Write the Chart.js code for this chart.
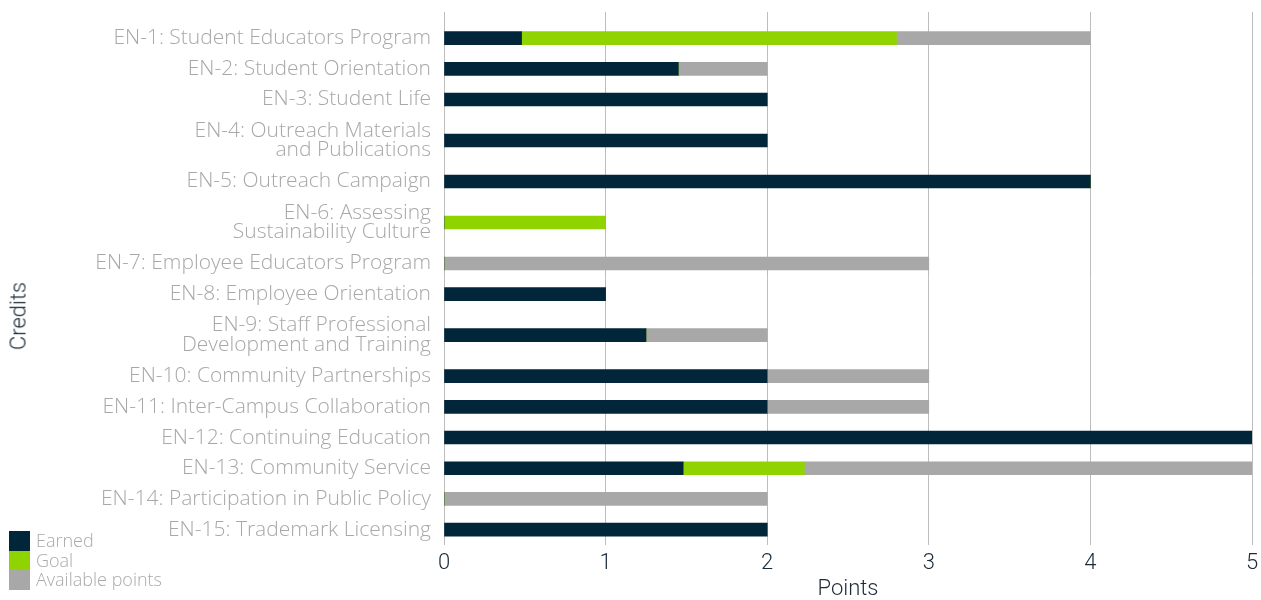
<!DOCTYPE html>
<html>
<head>
<meta charset="utf-8">
<script src="https://cdn.jsdelivr.net/npm/chart.js@4"></script>
<style>
body{margin:0;background:#fff;font-family:"Open Sans",sans-serif;}
#wrap{position:relative;width:1261px;height:600px;}
#legend{position:absolute;left:9px;top:531px;font:300 18px "Open Sans",sans-serif;color:#aaa;line-height:19.5px;}
#legend div{display:flex;align-items:center;height:19.5px;}
#legend span{display:inline-block;width:21px;height:19.5px;margin-right:6px;}
#ytitle{position:absolute;left:18px;top:316px;transform:translate(-50%,-50%) rotate(-90deg);font:300 22px Roboto,sans-serif;color:#1c2b39;white-space:nowrap;}
</style>
</head>
<body>
<div id="wrap">
<canvas id="chart" width="1261" height="600"></canvas>
<div id="legend"></div>
<div id="ytitle">Credits</div>
</div>
<script>
// 항목명
var labels = [
	'EN-1: Student Educators Program',
	'EN-2: Student Orientation',
	'EN-3: Student Life',
	['EN-4: Outreach Materials', 'and Publications'],
	'EN-5: Outreach Campaign',
	['EN-6: Assessing', 'Sustainability Culture'],
	'EN-7: Employee Educators Program',
	'EN-8: Employee Orientation',
	['EN-9: Staff Professional', 'Development and Training'],
	'EN-10: Community Partnerships',
	'EN-11: Inter-Campus Collaboration',
	'EN-12: Continuing Education',
	'EN-13: Community Service',
	'EN-14: Participation in Public Policy',
	'EN-15: Trademark Licensing'
];
var seriesNames = ['Earned', 'Goal', 'Available points'];
var seriesColors = ['#022639', '#8fd400', '#a8a8a8'];

// 값
var earned    = [0.48, 1.45, 2, 2, 4, 0, 0, 1, 1.25, 2, 2, 5, 1.48, 0, 2];
var goal      = [2.32, 0, 0, 0, 0, 1, 0, 0, 0, 0, 0, 0, 0.75, 0, 0];
var available = [1.2, 0.55, 0, 0, 0, 0, 3, 0, 0.75, 1, 1, 0, 2.77, 2, 0];
var xTicks = [0, 1, 2, 3, 4, 5];

var $each = function(arr, fn){ for (var i = 0; i < arr.length; i++) fn(i, arr[i]); };

// 두 줄 라벨은 행 높이를 더 크게 (원본처럼)
var rowPos = [];
var total = 0;
$each(labels, function(i, lab){
	var h = Array.isArray(lab) ? 1.67 : 1;
	rowPos.push(total + h / 2);
	total += h;
});

var values = [earned, goal, available];
var datasets = [];
$each(seriesNames, function(i, name){
	var pts = [];
	$each(values[i], function(j, v){ pts.push({ x: v, y: rowPos[j] }); });
	datasets.push({
		label: name,
		data: pts,
		backgroundColor: seriesColors[i],
		barThickness: 13,
		borderWidth: 0
	});
});

// 범례
var legendHtml = '';
$each(seriesNames, function(i, name){
	legendHtml += '<div><span style="background:' + seriesColors[i] + '"></span>' + name + '</div>';
});
document.getElementById('legend').innerHTML = legendHtml;

var ctx = document.getElementById('chart').getContext('2d');
var myChart = new Chart(ctx, {
	type: 'bar',
	data: { datasets: datasets },
	options: {
		indexAxis: 'y',
		responsive: false,
		animation: false,
		layout: { padding: { top: 12, right: 9, left: 0, bottom: 0 } },
		plugins: { legend: { display: false }, tooltip: { enabled: false } },
		scales: {
			x: {
				type: 'linear',
				stacked: true,
				min: 0, max: 5,
				afterBuildTicks: function(axis){ axis.ticks = xTicks.map(function(v){ return { value: v }; }); },
				afterFit: function(axis){
					axis.height = 55;
					axis.paddingRight = 0;
					axis.paddingLeft = 0;
				},
				grid: { color: '#bdbdbd', lineWidth: 1, drawTicks: false },
				border: { display: false },
				ticks: { color: '#1c2b39', font: { family: 'Roboto', size: 22, weight: 300 }, padding: 5 },
				title: { display: true, text: 'Points', color: '#1c2b39', font: { family: 'Roboto', size: 22, weight: 300, lineHeight: 1 }, padding: { top: 2, bottom: 0 } }
			},
			y: {
				type: 'linear',
				stacked: true,
				reverse: true,
				offset: false,
				min: -0.35, max: total,
				afterBuildTicks: function(axis){ axis.ticks = rowPos.map(function(v){ return { value: v }; }); },
				afterFit: function(axis){
					axis.width = 444;
					axis.paddingTop = 0;
					axis.paddingBottom = 0;
				},
				grid: { display: false, drawTicks: false },
				border: { display: false },
				ticks: {
					color: '#a8a8a8',
					font: { family: 'Open Sans', size: 21, weight: 300, lineHeight: 0.92 },
					padding: 13,
					autoSkip: false,
					callback: function(value, index){ return labels[index]; }
				}
			}
		}
	}
});
</script>
</body>
</html>
